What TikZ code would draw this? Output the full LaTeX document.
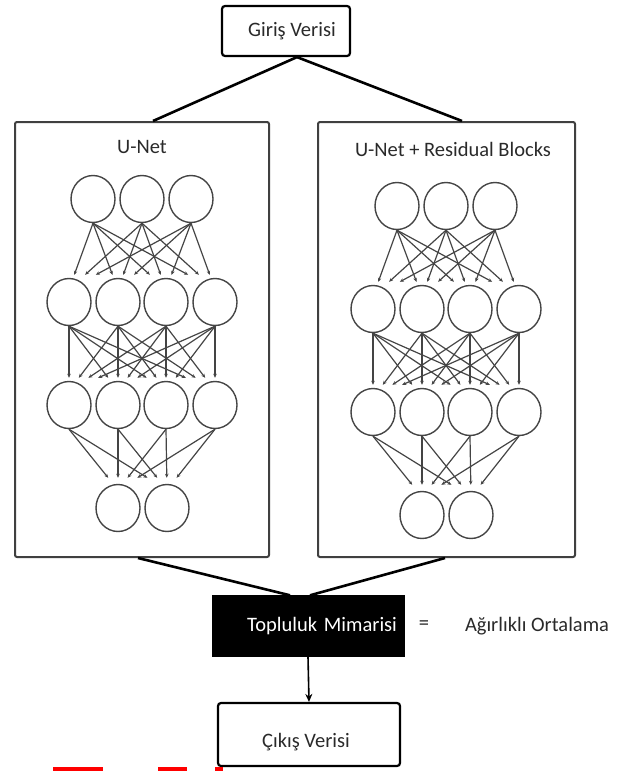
\documentclass[tikz,border=0pt]{standalone}
\usepackage{fontspec}
\setmainfont{Carlito}
\usetikzlibrary{shapes.geometric,arrows.meta,calc}
\definecolor{txt}{HTML}{2A2A2A}
\definecolor{netc}{HTML}{444444}
\definecolor{panelc}{HTML}{404040}
\tikzset{
  lbl/.style={font=\fontsize{20.5}{24}\selectfont, text=txt, inner sep=0pt},
  iobox/.style={draw=black, line width=2.2pt, rounded corners=3pt, fill=white, inner sep=0pt},
  panel/.style={draw=panelc, line width=2pt, rounded corners=2pt, inner sep=0pt},
  neuron/.style={ellipse, draw=netc, line width=1.4pt, minimum width=44pt, minimum height=47pt, inner sep=0pt},
  arr/.style={draw=netc, line width=1.2pt, -{Stealth[length=4pt,width=3.5pt]}},
  link/.style={draw=black, line width=2.6pt},
  mainarr/.style={draw=black, line width=1.6pt, -{Stealth[length=8pt,width=7pt]}}
}
\begin{document}
\begin{tikzpicture}[x=1pt,y=-1pt]
\useasboundingbox (0,0) rectangle (630,771);
% input box
\node[iobox, minimum width=128pt, minimum height=50pt] (in) at (286,31) {};
\node[lbl] (intext) at (292,31) {Giriş Verisi};
% panels
\node[panel, minimum width=254pt, minimum height=435pt] (PL) at (142,339.5) {};
\node[panel, minimum width=257pt, minimum height=435pt] (PR) at (446.5,339.5) {};
\node[lbl] (tL) at (142,147) {U-Net};
\node[lbl] (tR) at (453,149) {U-Net + Residual Blocks};
% connections from input
\draw[link] ($(in.south)+(11,0)$) -- ($(PL.north)+(11,0)$);
\draw[link] ($(in.south)+(11,0)$) -- ($(PR.north)+(15.5,0)$);
% networks
\foreach \p/\ox/\oy in {L/0/0, R/304/7}{
  \begin{scope}[shift={(\ox,\oy)}]
    \foreach \i/\x in {1/93,2/142,3/191} \node[neuron] (\p-1-\i) at (\x,199) {};
    \foreach \i/\x in {1/69,2/118,3/166,4/215} \node[neuron] (\p-2-\i) at (\x,302) {};
    \foreach \i/\x in {1/69,2/118,3/166,4/215} \node[neuron] (\p-3-\i) at (\x,405) {};
    \foreach \i/\x in {1/118,2/167} \node[neuron] (\p-4-\i) at (\x,508) {};
    \foreach \i/\sx in {1/93,2/142,3/191}
      \foreach \j/\tx in {1/69,2/118,3/166,4/215}
        \draw[arr] (\p-1-\i.south) -- ($(\p-2-\j.north)+({0.22*(\sx-\tx)},-3)$);
    \foreach \i/\sx in {1/69,2/118,3/166,4/215}
      \foreach \j/\tx in {1/69,2/118,3/166,4/215}
        \draw[arr] (\p-2-\i.south) -- ($(\p-3-\j.north)+({0.2*(\sx-\tx)},-3)$);
    \foreach \i/\sx in {1/69,2/118,3/166,4/215}
      \foreach \j/\tx in {1/118,2/167}
        \draw[arr] (\p-3-\i.south) -- ($(\p-4-\j.north)+({0.2*(\sx-\tx)},-6)$);
  \end{scope}
}
% ensemble box
\node[fill=black, draw=black, minimum width=192pt, minimum height=61pt, text width=178pt, align=right, inner sep=7pt, font=\fontsize{20.5}{24}\selectfont, text=white] (ens) at (308,626) {Topluluk Mimarisi};
\node[lbl] (eq) at (424,625) {=};
\node[lbl] (avg) at (537,626) {Ağırlıklı Ortalama};
\draw[link] ($(PL.south)+(-4,0)$) -- ($(ens.north)+(-18,0)$);
\draw[link] ($(PR.south)+(-1.5,0)$) -- ($(ens.north)+(2,0)$);
% output
\node[iobox, minimum width=182pt, minimum height=63pt] (out) at (309,734.5) {};
\node[lbl] (outtext) at (306,742) {Çıkış Verisi};
\draw[mainarr] (ens.south) -- (out.north);
% red marks at bottom edge
\fill[red] (53,767) rectangle (103,771);
\fill[red] (158,767) rectangle (187,771);
\fill[red] (215,767) rectangle (223,771);
\end{tikzpicture}
\end{document}
